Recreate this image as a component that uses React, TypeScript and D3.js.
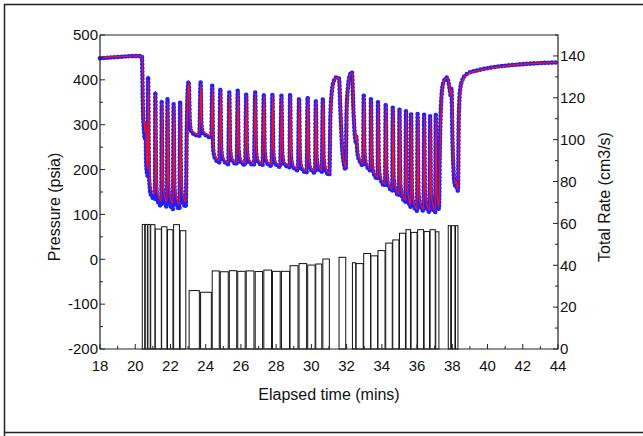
import React from 'react';
import * as d3 from 'd3';

// Flow periods: start / end time (mins) and total rate (cm3/s)
const rateStart = [20.40, 20.57, 20.72, 20.88, 21.14, 21.50, 21.83, 22.18, 22.55, 23.06, 23.71, 24.37, 24.83, 25.34, 25.82, 26.30, 26.81, 27.30, 27.79, 28.30, 28.79, 29.30, 29.79, 30.25, 30.65, 31.57, 32.33, 32.54, 32.97, 33.38, 33.78, 34.22, 34.62, 35.00, 35.37, 35.66, 36.03, 36.40, 36.74, 37.06, 37.77, 37.95, 38.18];
const rateEnd = [20.54, 20.69, 20.85, 21.12, 21.48, 21.80, 22.14, 22.51, 22.87, 23.64, 24.32, 24.77, 25.28, 25.76, 26.24, 26.74, 27.23, 27.74, 28.23, 28.76, 29.24, 29.73, 30.21, 30.59, 31.02, 31.95, 32.52, 32.94, 33.36, 33.76, 34.18, 34.59, 34.97, 35.34, 35.63, 36.00, 36.37, 36.71, 37.03, 37.24, 37.91, 38.15, 38.32];
const rateValue = [59.5, 59.5, 59.5, 59.4, 57.3, 58.4, 57.0, 59.4, 56.5, 27.9, 27.1, 37.3, 36.9, 37.4, 37.1, 37.3, 37.0, 37.7, 37.1, 37.1, 39.8, 40.8, 40.1, 40.6, 43.0, 43.8, 41.2, 40.8, 45.6, 44.5, 47.0, 50.6, 52.1, 55.3, 57.0, 55.7, 57.0, 56.1, 57.0, 56.0, 58.9, 58.9, 58.9];

// Measured pressure trace (mins, psia)
const measuredPressure: [number, number][] = [
  [18.0, 448], [19.0, 451], [20.0, 453], [20.38, 453],
  [20.44, 330], [20.50, 285], [20.55, 268],
  [20.58, 300], [20.62, 215], [20.70, 186],
  [20.73, 406], [20.78, 190], [20.88, 145], [21.12, 134],
  [21.14, 372], [21.19, 170], [21.29, 128], [21.48, 119],
  [21.50, 353], [21.55, 165], [21.65, 127], [21.80, 117],
  [21.83, 357], [21.88, 163], [21.98, 124], [22.14, 112],
  [22.18, 346], [22.23, 160], [22.33, 124], [22.51, 112],
  [22.55, 350], [22.60, 168], [22.70, 130], [22.87, 117],
  [22.93, 300], [22.98, 380], [23.03, 396],
  [23.11, 300], [23.20, 283], [23.64, 275],
  [23.71, 395], [23.76, 300], [23.86, 281], [24.32, 272],
  [24.37, 387], [24.42, 248], [24.52, 226], [24.77, 216],
  [24.83, 380], [24.88, 250], [24.98, 223], [25.28, 212],
  [25.34, 372], [25.39, 246], [25.49, 221], [25.76, 212],
  [25.82, 376], [25.87, 246], [25.97, 219], [26.24, 210],
  [26.30, 368], [26.35, 243], [26.45, 218], [26.74, 210],
  [26.81, 372], [26.86, 244], [26.96, 218], [27.23, 210],
  [27.30, 368], [27.35, 242], [27.45, 216], [27.74, 208],
  [27.79, 368], [27.84, 240], [27.94, 214], [28.23, 206],
  [28.30, 365], [28.35, 238], [28.45, 213], [28.76, 205],
  [28.79, 368], [28.84, 234], [28.94, 207], [29.24, 198],
  [29.30, 359], [29.35, 228], [29.45, 202], [29.73, 193],
  [29.79, 361], [29.84, 230], [29.94, 202], [30.21, 193],
  [30.25, 355], [30.30, 228], [30.40, 203], [30.59, 195],
  [30.65, 357], [30.70, 225], [30.80, 198], [31.02, 188],
  [31.08, 320], [31.18, 380], [31.30, 400], [31.45, 406], [31.57, 403],
  [31.65, 330], [31.75, 245], [31.85, 212], [31.95, 200],
  [32.00, 330], [32.08, 385], [32.18, 410], [32.30, 417],
  [32.40, 320], [32.52, 262],
  [32.54, 275], [32.62, 235], [32.75, 218], [32.94, 209],
  [32.97, 365], [33.02, 238], [33.12, 210], [33.36, 198],
  [33.38, 357], [33.43, 224], [33.53, 192], [33.76, 179],
  [33.78, 350], [33.83, 210], [33.93, 177], [34.18, 164],
  [34.22, 346], [34.27, 198], [34.37, 165], [34.59, 153],
  [34.62, 338], [34.67, 185], [34.77, 154], [34.97, 142],
  [35.00, 335], [35.05, 172], [35.15, 140], [35.34, 128],
  [35.37, 331], [35.42, 162], [35.52, 129], [35.63, 117],
  [35.66, 324], [35.71, 152], [35.81, 120], [36.00, 108],
  [36.03, 324], [36.08, 150], [36.18, 119], [36.37, 108],
  [36.40, 322], [36.45, 148], [36.55, 116], [36.71, 105],
  [36.74, 319], [36.79, 146], [36.89, 115], [37.03, 105],
  [37.06, 322], [37.11, 150], [37.18, 120], [37.24, 112],
  [37.30, 260], [37.38, 360], [37.50, 395], [37.70, 405],
  [37.84, 382], [37.91, 365],
  [37.95, 380], [38.02, 250], [38.15, 165],
  [38.18, 175], [38.25, 158], [38.32, 153],
  [38.37, 320], [38.45, 380], [38.60, 402], [38.90, 415], [39.40, 421], [40.30, 428], [41.40, 433], [42.80, 437], [44.00, 439],
];

// Simulated pressure response (mins, psia)
const simulatedPressure: [number, number][] = [
  [18.0, 450], [19.0, 452], [20.0, 453], [20.40, 453],
  [20.46, 340], [20.52, 298], [20.55, 285],
  [20.60, 305], [20.64, 232], [20.70, 200],
  [20.75, 400], [20.80, 205], [20.90, 158], [21.12, 146],
  [21.16, 368], [21.21, 184], [21.31, 141], [21.48, 130],
  [21.52, 350], [21.57, 180], [21.67, 139], [21.80, 128],
  [21.85, 352], [21.90, 177], [22.00, 136], [22.14, 124],
  [22.20, 344], [22.25, 175], [22.35, 136], [22.51, 123],
  [22.57, 346], [22.62, 182], [22.72, 142], [22.87, 128],
  [22.95, 300], [23.00, 378], [23.05, 394],
  [23.13, 305], [23.22, 287], [23.64, 278],
  [23.73, 392], [23.78, 305], [23.88, 285], [24.32, 276],
  [24.39, 384], [24.44, 254], [24.54, 231], [24.77, 220],
  [24.85, 378], [24.90, 255], [25.00, 227], [25.28, 216],
  [25.36, 370], [25.41, 251], [25.51, 225], [25.76, 216],
  [25.84, 373], [25.89, 251], [25.99, 223], [26.24, 214],
  [26.32, 366], [26.37, 248], [26.47, 222], [26.74, 214],
  [26.83, 369], [26.88, 249], [26.98, 222], [27.23, 214],
  [27.32, 366], [27.37, 247], [27.47, 220], [27.74, 212],
  [27.81, 366], [27.86, 245], [27.96, 218], [28.23, 210],
  [28.32, 362], [28.37, 243], [28.47, 217], [28.76, 209],
  [28.81, 365], [28.86, 239], [28.96, 211], [29.24, 202],
  [29.32, 357], [29.37, 233], [29.47, 206], [29.73, 197],
  [29.81, 359], [29.86, 235], [29.96, 206], [30.21, 197],
  [30.27, 353], [30.32, 233], [30.42, 207], [30.59, 199],
  [30.67, 355], [30.72, 230], [30.82, 202], [31.02, 192],
  [31.10, 325], [31.20, 382], [31.32, 401], [31.47, 405], [31.59, 401],
  [31.67, 325], [31.77, 245], [31.87, 214], [31.95, 204],
  [32.02, 335], [32.10, 388], [32.20, 411], [32.32, 415],
  [32.42, 318], [32.52, 266],
  [32.56, 278], [32.64, 240], [32.77, 222], [32.94, 213],
  [32.99, 362], [33.04, 243], [33.14, 214], [33.36, 202],
  [33.40, 355], [33.45, 229], [33.55, 196], [33.76, 183],
  [33.80, 348], [33.85, 215], [33.95, 181], [34.18, 168],
  [34.24, 344], [34.29, 203], [34.39, 169], [34.59, 157],
  [34.64, 336], [34.69, 190], [34.79, 158], [34.97, 146],
  [35.02, 333], [35.07, 177], [35.17, 144], [35.34, 132],
  [35.39, 329], [35.44, 167], [35.54, 133], [35.63, 121],
  [35.68, 322], [35.73, 157], [35.83, 124], [36.00, 112],
  [36.05, 322], [36.10, 155], [36.20, 123], [36.37, 112],
  [36.42, 320], [36.47, 153], [36.57, 120], [36.71, 109],
  [36.76, 317], [36.81, 151], [36.91, 119], [37.03, 109],
  [37.08, 320], [37.13, 155], [37.20, 124], [37.24, 116],
  [37.32, 265], [37.40, 362], [37.52, 396], [37.72, 404],
  [37.86, 380], [37.91, 366],
  [37.97, 378], [38.04, 252], [38.15, 168],
  [38.20, 176], [38.27, 160], [38.32, 156],
  [38.39, 322], [38.47, 381], [38.62, 402], [38.90, 414], [39.40, 420], [40.30, 427], [41.40, 433], [42.80, 437], [44.00, 439],
];

const timeTicks = [18, 20, 22, 24, 26, 28, 30, 32, 34, 36, 38, 40, 42, 44];
const pressureTicks = [-200, -100, 0, 100, 200, 300, 400, 500];
const rateTicks = [0, 20, 40, 60, 80, 100, 120, 140];

const xLabel = 'Elapsed time (mins)';
const yLeftLabel = 'Pressure (psia)';
const yRightLabel = 'Total Rate (cm3/s)';

const FONT = '"Liberation Sans", Arial, Helvetica, sans-serif';

export default function App() {
  const left = 100, right = 558, top = 35, bottom = 349;
  const x = d3.scaleLinear().domain([18, 44]).range([left, right]);
  const yP = d3.scaleLinear().domain([-200, 500]).range([bottom, top]);
  const yR = d3.scaleLinear().domain([0, 150]).range([bottom, top]);

  const line = d3
    .line<[number, number]>()
    .x((d) => x(d[0]))
    .y((d) => yP(d[1]))
    .curve(d3.curveMonotoneX);

  const minorTime = d3.range(18, 44.01, 1);
  const minorPressure = d3.range(-200, 500.01, 50);
  const minorRate = d3.range(0, 150.01, 10);

  const axisColor = '#222';
  const measuredPath = line(measuredPressure) || '';
  const simulatedPath = line(simulatedPressure) || '';

  return (
    <svg
      width={643}
      height={436}
      style={{ position: 'absolute', left: 0, top: 0, background: '#fff' }}
      fontFamily={FONT}
    >
      <rect x={0} y={0} width={643} height={436} fill="#fff" />
      {/* outer frame */}
      <path d="M4.5,436 V4.5 H643 M4.5,432.5 H643" fill="none" stroke="#222" strokeWidth={1.5} />

      {/* rate bars */}
      <g>
        {rateValue.map((v, i) => (
          <rect
            key={i}
            x={x(rateStart[i])}
            y={yR(v)}
            width={Math.max(0.5, x(rateEnd[i]) - x(rateStart[i]))}
            height={yR(0) - yR(v)}
            fill="#fff"
            stroke="#111"
            strokeWidth={1}
          />
        ))}
      </g>

      {/* measured pressure: blue markers */}
      <path d={measuredPath} fill="none" stroke="#2a2aff" strokeWidth={2.6} opacity={0.85} />
      <path
        d={measuredPath}
        fill="none"
        stroke="#1f1fff"
        strokeWidth={4.6}
        strokeLinecap="round"
        strokeDasharray="0 3.6"
      />
      {/* simulated pressure: red line */}
      <path d={simulatedPath} fill="none" stroke="#ff1010" strokeWidth={1.3} />

      {/* axes frame */}
      <path
        d={`M${left},${top} V${bottom} H${right} V${top} H${left}`}
        fill="none"
        stroke={axisColor}
        strokeWidth={1.2}
      />

      {/* bottom axis ticks */}
      {minorTime.map((t) => (
        <line
          key={'xt' + t}
          x1={x(t)}
          x2={x(t)}
          y1={bottom}
          y2={bottom - (t % 2 === 0 ? 5 : 3)}
          stroke={axisColor}
        />
      ))}
      {timeTicks.map((t) => (
        <text key={'xl' + t} x={x(t)} y={bottom + 22} fontSize={15} textAnchor="middle" fill="#111">
          {t}
        </text>
      ))}

      {/* left axis ticks */}
      {minorPressure.map((p) => (
        <line
          key={'yt' + p}
          x1={left}
          x2={left + (p % 100 === 0 ? 5 : 3)}
          y1={yP(p)}
          y2={yP(p)}
          stroke={axisColor}
        />
      ))}
      {pressureTicks.map((p) => (
        <text key={'yl' + p} x={left - 2} y={yP(p)} dy="0.35em" fontSize={15} textAnchor="end" fill="#111">
          {p}
        </text>
      ))}

      {/* right axis ticks */}
      {minorRate.map((r) => (
        <line
          key={'rt' + r}
          x1={right}
          x2={right - (r % 20 === 0 ? 5 : 3)}
          y1={yR(r)}
          y2={yR(r)}
          stroke={axisColor}
        />
      ))}
      {rateTicks.map((r) => (
        <text key={'rl' + r} x={right + 2} y={yR(r)} dy="0.35em" fontSize={15} textAnchor="start" fill="#111">
          {r}
        </text>
      ))}

      {/* axis titles */}
      <text x={(left + right) / 2} y={400} fontSize={16} textAnchor="middle" fill="#111">
        {xLabel}
      </text>
      <text
        transform={`translate(60,${(top + bottom) / 2 + 15}) rotate(-90)`}
        fontSize={16}
        textAnchor="middle"
        fill="#111"
      >
        {yLeftLabel}
      </text>
      <text
        transform={`translate(610,${(top + bottom) / 2 + 5}) rotate(-90)`}
        fontSize={16}
        textAnchor="middle"
        fill="#111"
      >
        {yRightLabel}
      </text>
    </svg>
  );
}
